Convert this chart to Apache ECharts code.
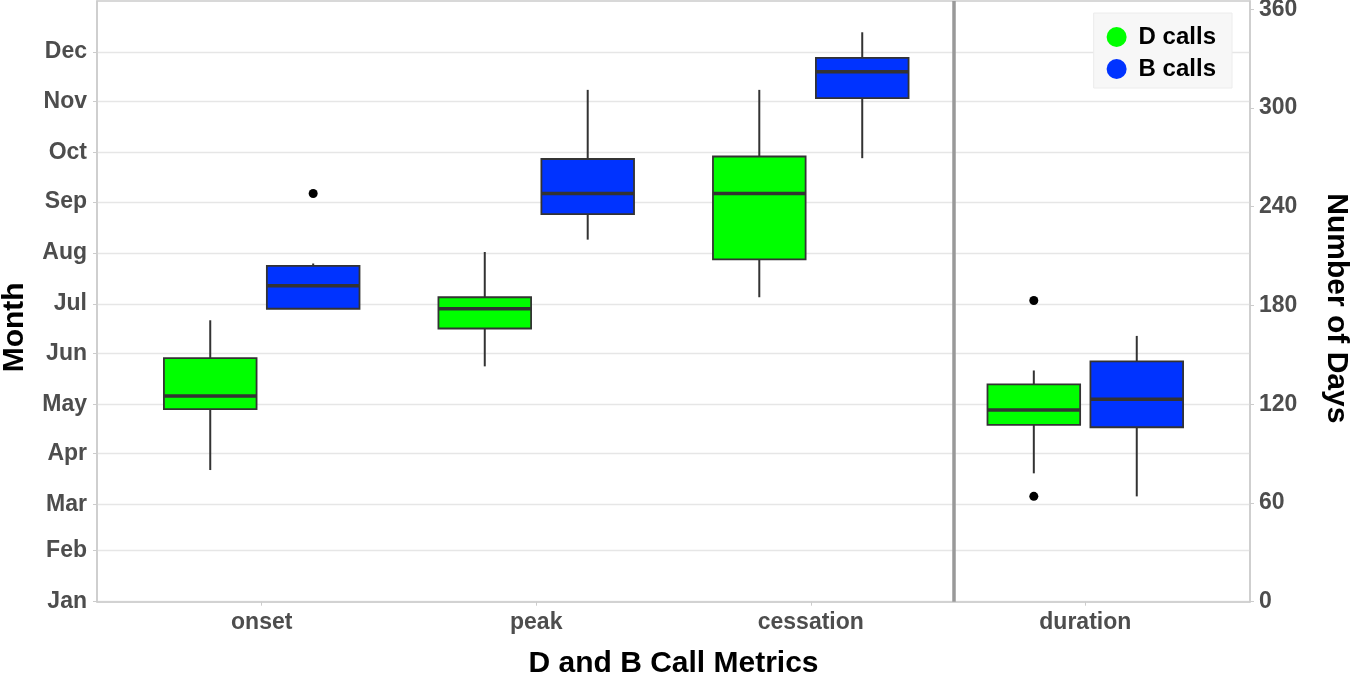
<!DOCTYPE html>
<html><head><meta charset="utf-8">
<script src="https://cdn.jsdelivr.net/npm/echarts@6/dist/echarts.min.js"></script>
<style>html,body{margin:0;padding:0;background:#fff}#c{width:1350px;height:675px}</style>
</head><body><div id="c"></div>
<script>
// ---- data ----
const metrics = ['onset', 'peak', 'cessation', 'duration'];
const monthNames = ['Jan','Feb','Mar','Apr','May','Jun','Jul','Aug','Sep','Oct','Nov','Dec'];
const monthStarts = [0, 31, 59, 90, 120, 151, 181, 212, 243, 273, 304, 334];
const dayTicks = [0, 60, 120, 180, 240, 300, 360];
// each row: [min, q1, median, q3, max] (days)
const dCalls = [
  [80, 117, 125, 148, 171],
  [143, 166, 178, 185, 212.5],
  [185, 208, 248, 270.5, 311],
  [78, 107.5, 116.5, 132, 140.5]
];
const bCalls = [
  [178, 178, 192, 204, 205.5],
  [220, 235.5, 248, 269, 311],
  [269.5, 306, 322, 330.5, 346],
  [64, 106, 123, 146, 161.5]
];
// outliers: [metric position (1-based), days]
const dOutliers = [[4, 183], [4, 64]];
const bOutliers = [[1, 248]];
const SEPARATOR_X = 3.52;

// ---- styling constants ----
const DODGE = 0.1875, BOX_W = 0.3375;
const GREEN = '#00ff00', BLUE = '#0033ff';
const FONT = 'Liberation Sans, Arial, Helvetica, sans-serif';
const LABEL_COLOR = '#4d4d4d';

function makeRender(offset, color) {
  return function (params, api) {
    const x = api.value(0) + offset;
    const mn = api.coord([x, api.value(1)]);
    const q1 = api.coord([x, api.value(2)]);
    const md = api.coord([x, api.value(3)]);
    const q3 = api.coord([x, api.value(4)]);
    const mx = api.coord([x, api.value(5)]);
    const half = api.size([BOX_W, 0])[0] / 2;
    const ls = { stroke: '#333333', lineWidth: 2 };
    return {
      type: 'group',
      children: [
        { type: 'line', shape: { x1: mx[0], y1: mx[1], x2: q3[0], y2: q3[1] }, style: ls },
        { type: 'line', shape: { x1: q1[0], y1: q1[1], x2: mn[0], y2: mn[1] }, style: ls },
        { type: 'rect', shape: { x: q3[0] - half, y: q3[1], width: half * 2, height: q1[1] - q3[1] },
          style: { fill: color, stroke: '#333333', lineWidth: 1.8 } },
        { type: 'line', shape: { x1: md[0] - half, y1: md[1], x2: md[0] + half, y2: md[1] },
          style: { stroke: '#333333', lineWidth: 3.5 } }
      ]
    };
  };
}

const chart = echarts.init(document.getElementById('c'), null, { renderer: 'canvas' });
const axisLineStyle = { color: '#cccccc', width: 1.5 };
chart.setOption({
  backgroundColor: '#ffffff',
  animation: false,
  textStyle: { fontFamily: FONT },
  grid: { left: 97, right: 100, top: 1, bottom: 73.3, show: true, borderColor: '#cccccc', borderWidth: 1.5, outerBoundsMode: 'none' },
  legend: {
    data: ['D calls', 'B calls'],
    orient: 'vertical',
    right: 118, top: 13,
    icon: 'circle',
    itemWidth: 20, itemHeight: 20, itemGap: 8,
    padding: [12, 16, 7, 13],
    backgroundColor: '#f7f7f7',
    borderColor: '#ececec', borderWidth: 1,
    itemStyle: { borderWidth: 0 },
    textStyle: { fontSize: 24, fontWeight: 'bold', color: '#000', fontFamily: FONT, padding: [0, 0, 0, 7] }
  },
  xAxis: {
    type: 'value', min: 0.4, max: 4.6,
    name: 'D and B Call Metrics', nameLocation: 'middle', nameGap: 47,
    nameTextStyle: { fontSize: 30, fontWeight: 'bold', color: '#000', fontFamily: FONT },
    axisLine: { show: true, lineStyle: axisLineStyle },
    axisTick: { show: true, length: 4, customValues: [1, 2, 3, 4], lineStyle: { color: '#cccccc' } },
    axisLabel: { customValues: [1, 2, 3, 4], formatter: v => metrics[Math.round(v) - 1] || '',
      fontSize: 23, fontWeight: 'bold', color: LABEL_COLOR, margin: 9, fontFamily: FONT },
    splitLine: { show: false }
  },
  yAxis: [{
    type: 'value', min: 0, max: 365, position: 'left',
    name: 'Month', nameLocation: 'middle', nameGap: 67, nameRotate: 90,
    nameTextStyle: { fontSize: 30, fontWeight: 'bold', color: '#000', fontFamily: FONT, padding: [0, 52, 0, 0] },
    axisLine: { show: true, lineStyle: axisLineStyle },
    axisTick: { show: true, length: 4, customValues: monthStarts, lineStyle: { color: '#cccccc' } },
    axisLabel: { customValues: monthStarts, formatter: v => monthNames[monthStarts.indexOf(Math.round(v))] || '',
      fontSize: 23, fontWeight: 'bold', color: LABEL_COLOR, margin: 10, fontFamily: FONT },
    splitLine: { show: true, lineStyle: { color: '#e6e6e6', width: 1.3 } }
  }, {
    type: 'value', min: 0, max: 365, position: 'right',
    name: 'Number of Days', nameLocation: 'middle', nameGap: 71, nameRotate: -90,
    nameTextStyle: { fontSize: 30, fontWeight: 'bold', color: '#000', fontFamily: FONT, padding: [0, 0, 0, 14] },
    axisLine: { show: true, lineStyle: axisLineStyle },
    axisTick: { show: true, length: 4, customValues: dayTicks, lineStyle: { color: '#cccccc' } },
    axisLabel: { customValues: dayTicks, fontSize: 23, fontWeight: 'bold', color: LABEL_COLOR, margin: 9, fontFamily: FONT },
    splitLine: { show: false }
  }],
  series: [
    {
      name: 'D calls', type: 'custom', yAxisIndex: 1,
      itemStyle: { color: GREEN },
      renderItem: makeRender(-DODGE, GREEN),
      encode: { x: 0, y: [1, 2, 3, 4, 5] },
      data: metrics.map((m, i) => [i + 1].concat(dCalls[i]))
    },
    {
      name: 'B calls', type: 'custom', yAxisIndex: 1,
      itemStyle: { color: BLUE },
      renderItem: makeRender(DODGE, BLUE),
      encode: { x: 0, y: [1, 2, 3, 4, 5] },
      data: metrics.map((m, i) => [i + 1].concat(bCalls[i]))
    },
    {
      name: 'outliers', type: 'scatter', yAxisIndex: 1,
      symbolSize: 9, itemStyle: { color: '#000000', opacity: 1 }, silent: true,
      data: dOutliers.map(p => [p[0] - DODGE, p[1]]).concat(bOutliers.map(p => [p[0] + DODGE, p[1]])),
      markLine: {
        silent: true, symbol: 'none', label: { show: false },
        lineStyle: { color: '#999999', width: 3.5, type: 'solid' },
        data: [{ xAxis: SEPARATOR_X }]
      }
    }
  ]
});
</script></body></html>
